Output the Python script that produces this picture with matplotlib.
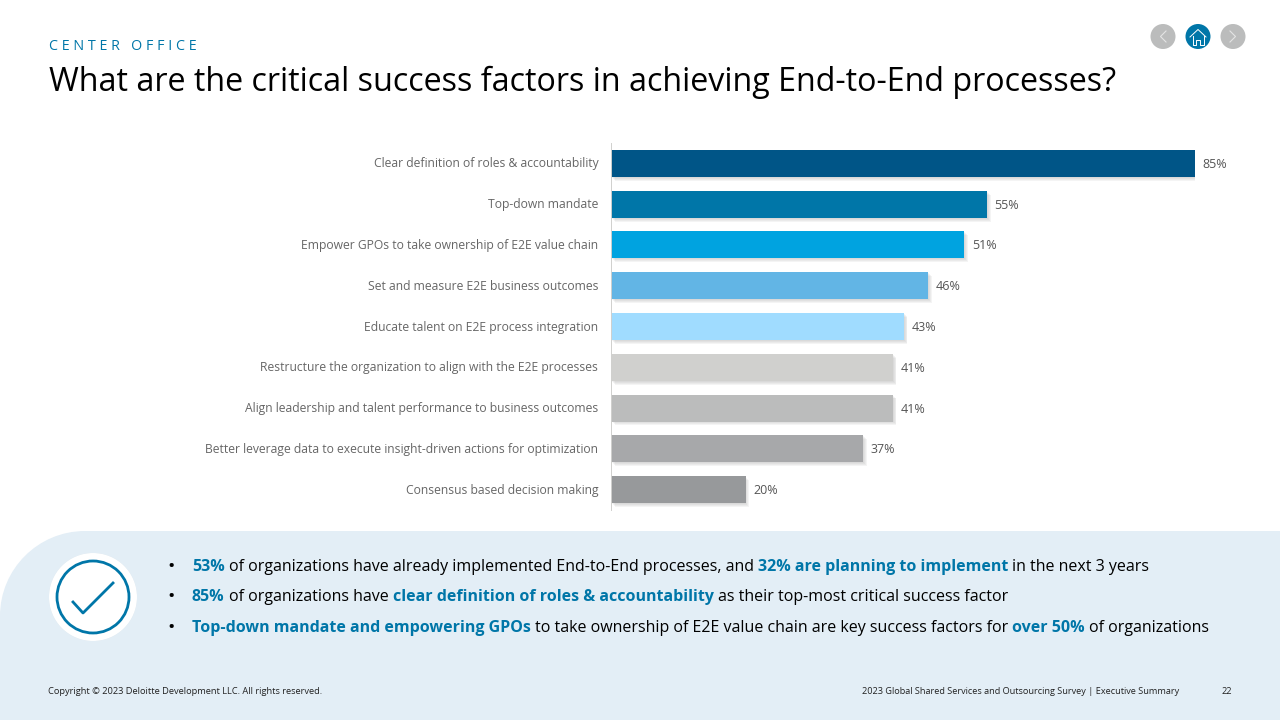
import matplotlib
matplotlib.use('Agg')
import matplotlib.pyplot as plt
import matplotlib.patheffects as pe
from matplotlib.patches import Circle, PathPatch
from matplotlib.path import Path
from matplotlib.transforms import ScaledTranslation

plt.rcParams['font.family'] = ['Open Sans', 'DejaVu Sans']

categories = ['Clear definition of roles & accountability', 'Top-down mandate',
              'Empower GPOs to take ownership of E2E value chain',
              'Set and measure E2E business outcomes',
              'Educate talent on E2E process integration',
              'Restructure the organization to align with the E2E processes',
              'Align leadership and talent performance to business outcomes',
              'Better leverage data to execute insight-driven actions for optimization',
              'Consensus based decision making']
values = [85, 54.7, 51.4, 46.1, 42.6, 41, 41, 36.7, 19.6]
value_labels = ['85%', '55%', '51%', '46%', '43%', '41%', '41%', '37%', '20%']
bar_colors = ['#005587', '#0076A8', '#00A3E0', '#62B5E5', '#A0DCFF',
              '#D0D0CE', '#BBBCBC', '#A7A8AA', '#97999B']

BLUE = '#0076A8'
PANEL = '#E3EEF6'

# (text, highlighted)
bullets = [
    [('53%', True), (' of organizations have already implemented End-to-End processes, and ', False),
     ('32% are planning to implement', True), (' in the next 3 years', False)],
    [('85%', True), (' of organizations have ', False), ('clear definition of roles & accountability', True),
     (' as their top-most critical success factor', False)],
    [('Top-down mandate and empowering GPOs', True), (' to take ownership of E2E value chain are key success factors for ', False),
     ('over 50%', True), (' of organizations', False)],
]
bullet_y = [566, 596, 627]

W, H = 1280, 720
fig = plt.figure(figsize=(12.8, 7.2), dpi=100, facecolor='white')

# page layer in pixel coordinates
page = fig.add_axes([0, 0, 1, 1])
page.set_xlim(0, W)
page.set_ylim(H, 0)
page.axis('off')

# panel with the rounded top left corner
R = 85
k = 0.448 * R
verts = [(0, H), (0, 531 + R), (0, 531 + k), (k, 531), (R, 531), (W, 531), (W, H), (0, H)]
codes = [Path.MOVETO, Path.LINETO, Path.CURVE4, Path.CURVE4, Path.CURVE4, Path.LINETO, Path.LINETO, Path.CLOSEPOLY]
page.add_patch(PathPatch(Path(verts, codes), fc=PANEL, ec='none'))

page.text(49, 47, 'C E N T E R   O F F I C E', fontsize=10.25, color=BLUE, va='center', ha='left')
page.text(49, 82.5, 'What are the critical success factors in achieving End-to-End processes?',
          fontsize=23.2, color='black', va='center', ha='left')

# nav buttons
for cx, col in [(1163, '#BBBCBC'), (1198, BLUE), (1233, '#BBBCBC')]:
    page.add_patch(Circle((cx, 36.5), 12.5, fc=col, ec='none'))
page.plot([1166, 1160.5, 1166], [31, 36.5, 42], color='#E4E4E4', lw=0.8)
page.plot([1230, 1235.5, 1230], [31, 36.5, 42], color='#E4E4E4', lw=0.8)
page.plot([1190, 1198, 1206], [37, 29.5, 37], color='white', lw=0.7)
page.plot([1192.5, 1192.5, 1196, 1196, 1200, 1200, 1203.5, 1203.5],
          [35.5, 45, 45, 39.5, 39.5, 45, 45, 35.5], color='white', lw=0.7)

# check icon
page.add_patch(Circle((93, 597), 44, fc='white', ec='none',
                      path_effects=[pe.SimplePatchShadow(offset=(0, 0), shadow_rgbFace='#B8C8D4', alpha=0.4), pe.Normal()]))
page.add_patch(Circle((93, 597), 36, fc='none', ec=BLUE, lw=2))
page.plot([73, 83, 113], [602, 613, 583], color=BLUE, lw=2)

# bullets, segment by segment
fig.canvas.draw()
renderer = fig.canvas.get_renderer()


def advance(s, **kw):
    # width with spaces counted, bars keep them from being dropped
    t = page.text(0, 0, '|' + s + '|', **kw)
    a = t.get_window_extent(renderer).width
    t.set_text('||')
    b = t.get_window_extent(renderer).width
    t.remove()
    return a - b


for line, y in zip(bullets, bullet_y):
    page.text(171, y + 1, '•', fontsize=14, color='black', va='center', ha='center')
    x = 192
    for txt, hl in line:
        kw = dict(fontsize=11.5, fontweight='bold' if hl else 'normal')
        lead = advance(' ', **kw) if txt.startswith(' ') else 0
        page.text(x + lead, y + 1, txt.strip(), va='center', ha='left', color=BLUE if hl else 'black', **kw)
        x += advance(txt, **kw)

# footer
page.text(48, 691, 'Copyright © 2023 Deloitte Development LLC. All rights reserved.', fontsize=6.67,
          color='#222222', va='center', ha='left')
page.text(1179, 691, '2023 Global Shared Services and Outsourcing Survey | Executive Summary', fontsize=6.6,
          color='#222222', va='center', ha='right')
page.text(1232, 691, '22', fontsize=6.6, color='#222222', va='center', ha='right')

# chart
ax = fig.add_axes([610.8 / W, 1 - 510 / H, (1195 - 610.8) / W, (510 - 143) / H], facecolor='none')
ypos = list(range(len(categories)))
bars = ax.barh(ypos, values, height=0.66, color=bar_colors, edgecolor='none')
shadow = [pe.SimplePatchShadow(offset=(d, -d), shadow_rgbFace='#707070', alpha=0.07) for d in (2.8, 2.1, 1.4, 0.7)]
for b in bars:
    b.set_path_effects(shadow + [pe.Normal()])
ax.set_xlim(0, 85)
ax.set_ylim(len(categories) - 0.5, -0.5)
ax.set_yticks(ypos)
ax.set_yticklabels(categories, fontsize=8.7, color='#666666')
ax.tick_params(axis='y', length=0, pad=9)
for lab in ax.get_yticklabels():
    lab.set_transform(lab.get_transform() + ScaledTranslation(0, 0.7 / 72, fig.dpi_scale_trans))
ax.set_xticks([])
for s in ['top', 'right', 'bottom']:
    ax.spines[s].set_visible(False)
ax.spines['left'].set_color('#D0D0CE')
ax.spines['left'].set_linewidth(0.7)
for y, v, lab in zip(ypos, values, value_labels):
    ax.annotate(lab, (v, y), xytext=(5.6, -0.7), textcoords='offset points', fontsize=9, color='#555555',
                va='center', ha='left', annotation_clip=False)

fig.savefig('out.png', dpi=100)
